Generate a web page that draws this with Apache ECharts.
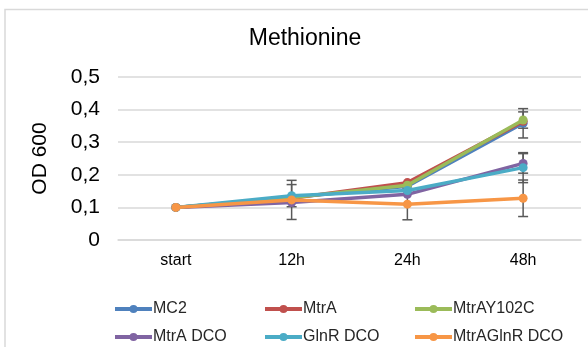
<!DOCTYPE html>
<html><head><meta charset="utf-8">
<script src="https://cdn.jsdelivr.net/npm/echarts@6/dist/echarts.min.js"></script>
<style>html,body{margin:0;padding:0;background:#fff}#c{width:588px;height:347px}</style>
</head><body><div id="c"></div>
<script>
var categories = ['start', '12h', '24h', '48h'];
var seriesNames = ['MC2', 'MtrA', 'MtrAY102C', 'MtrA DCO', 'GlnR DCO', 'MtrAGlnR DCO'];
var mc2 = [0.1, 0.130, 0.165, 0.358];
var mtrA = [0.1, 0.128, 0.176, 0.364];
var mtrAY102C = [0.1, 0.130, 0.168, 0.368];
var mtrADCO = [0.1, 0.115, 0.140, 0.235];
var glnRDCO = [0.1, 0.136, 0.152, 0.222];
var mtrAGlnRDCO = [0.1, 0.123, 0.110, 0.128];
var errMc2 = [0, 0, 0, 0.045];
var errMtrA = [0, 0, 0, 0];
var errMtrAY102C = [0, 0, 0, 0.025];
var errMtrADCO = [0, 0, 0, 0.030];
var errGlnRDCO = [0, 0.034, 0, 0.046];
var errMtrAGlnRDCO = [0, 0.060, 0.048, 0.056];
var yTicks = [0, 0.1, 0.2, 0.3, 0.4, 0.5];

var values = [mc2, mtrA, mtrAY102C, mtrADCO, glnRDCO, mtrAGlnRDCO];
var errs = [errMc2, errMtrA, errMtrAY102C, errMtrADCO, errGlnRDCO, errMtrAGlnRDCO];
var colors = ['#4F81BD', '#C0504D', '#9BBB59', '#8064A2', '#4BACC6', '#F79646'];

var series = [];
seriesNames.forEach(function (n, i) {
  var ed = [];
  values[i].forEach(function (v, j) {
    if (errs[i][j] > 0) ed.push([j, v - errs[i][j], v + errs[i][j]]);
  });
  series.push({
    type: 'custom', name: n + ' err', z: 1, silent: true,
    data: ed,
    renderItem: function (params, api) {
      var x = api.value(0);
      var lo = api.coord([x, api.value(1)]);
      var hi = api.coord([x, api.value(2)]);
      var w = 5;
      var st = { stroke: '#595959', lineWidth: 1.5 };
      return { type: 'group', children: [
        { type: 'line', shape: { x1: lo[0], y1: lo[1], x2: hi[0], y2: hi[1] }, style: st },
        { type: 'line', shape: { x1: lo[0] - w, y1: lo[1], x2: lo[0] + w, y2: lo[1] }, style: st },
        { type: 'line', shape: { x1: hi[0] - w, y1: hi[1], x2: hi[0] + w, y2: hi[1] }, style: st }
      ]};
    }
  });
});
seriesNames.forEach(function (n, i) {
  series.push({
    type: 'line', name: n, data: values[i], z: 2 + i,
    symbol: 'circle', symbolSize: 9,
    lineStyle: { width: 3.5, color: colors[i] },
    itemStyle: { color: colors[i] },
    emphasis: { disabled: true }
  });
});

var legends = [];
var legLeft = [108, 258, 408];
var legTop = [296, 324];
seriesNames.forEach(function (n, i) {
  legends.push({
    data: [n], left: legLeft[i % 3], top: legTop[Math.floor(i / 3)],
    itemWidth: 37, itemHeight: 10, itemGap: 0,
    lineStyle: { width: 4 },
    textStyle: { fontFamily: 'Liberation Sans', fontSize: 16, color: '#262626', padding: [0, 0, 0, -4] },
    selectedMode: false
  });
});

var chart = echarts.init(document.getElementById('c'));
chart.setOption({
  animation: false,
  color: colors,
  title: { text: 'Methionine', left: 300, top: 22, textAlign: 'center',
    textStyle: { fontFamily: 'Liberation Sans', fontSize: 23, fontWeight: 'normal', color: '#000' } },
  graphic: [{ type: 'rect', shape: { x: 5, y: 9.5, width: 700, height: 500 },
    style: { fill: 'none', stroke: '#D9D9D9', lineWidth: 1.5 }, z: -10 }],
  legend: legends,
  grid: { left: 118, right: 7, top: 77, bottom: 107 },
  xAxis: {
    type: 'category', data: categories,
    axisLine: { lineStyle: { color: '#D9D9D9', width: 1.5 } },
    axisTick: { show: false },
    axisLabel: { fontFamily: 'Liberation Sans', fontSize: 16, color: '#000', margin: 13 }
  },
  yAxis: {
    type: 'value', min: 0, max: 0.5, interval: 0.1,
    name: 'OD 600', nameLocation: 'middle', nameGap: 67,
    nameTextStyle: { fontFamily: 'Liberation Sans', fontSize: 21, color: '#000' },
    axisLine: { show: false }, axisTick: { show: false },
    splitLine: { lineStyle: { color: '#D9D9D9', width: 1.5 } },
    axisLabel: { fontFamily: 'Liberation Sans', fontSize: 21, color: '#000', margin: 18,
      formatter: function (v) { return String(Math.round(v * 10) / 10).replace('.', ','); } }
  },
  series: series
});
</script></body></html>
